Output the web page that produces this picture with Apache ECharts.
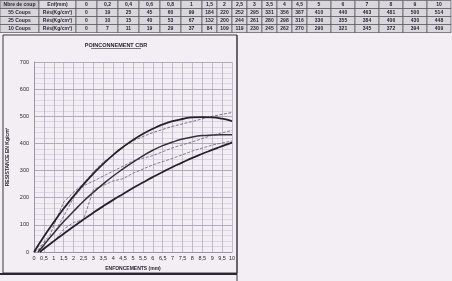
<!DOCTYPE html>
<html><head><meta charset="utf-8">
<script src="https://cdn.jsdelivr.net/npm/echarts@6/dist/echarts.min.js"></script>
<style>html,body{margin:0;padding:0;background:#f2eef4;}#c{width:452px;height:281px;}</style>
</head><body><div id="c"></div>
<script>
// ---- table / raw data ----
const enf = [0,0.2,0.4,0.6,0.8,1,1.5,2,2.5,3,3.5,4,4.5,5,6,7,8,9,10];
const enfLabels = ['0','0,2','0,4','0,6','0,8','1','1,5','2','2,5','3','3,5','4','4,5','5','6','7','8','9','10'];
const res55 = [0,19,25,45,60,99,184,220,252,295,331,356,387,410,440,463,481,500,514];
const res25 = [0,10,15,40,53,67,132,200,244,261,280,298,316,336,355,384,406,430,448];
const res10 = [0,7,11,19,29,37,84,109,119,230,245,262,270,290,321,345,372,394,409];
const rowNames = ['55 Coups','25 Coups','10 Coups'];
const unitLabel = 'Rés(Kg/cm²)';
// ---- corrected (smoothed) curves ----
const curveTopX = [0,0.5,1,1.5,2,2.5,3,3.5,4,4.5,5,5.5,6,6.5,7,7.5,8,8.5,9,9.5,10];
const curveTopY = [0,57,110,160,206,249,289,325,358,387,413,435,454,470,482,490,496,497,496,491,482];
const curveMidX = [0.2,0.5,1,1.5,2,2.5,3,3.5,4,4.5,5,5.5,6,6.5,7,7.5,8,8.5,9,9.5,10];
const curveMidY = [0,26,70,112,150,187,220,251,280,306,331,354,375,392,405,416,424,429,431,432,432];
const curveLowX = [0.3,0.5,1,1.5,2,2.5,3,3.5,4,4.5,5,5.5,6,6.5,7,7.5,8,8.5,9,9.5,10];
const curveLowY = [0,12,40,67,94,120,145,169,192,214,236,256,276,295,313,330,347,362,376,390,403];
const xTicks = ['0','0,5','1','1,5','2','2,5','3','3,5','4','4,5','5','5,5','6','6,5','7','7,5','8','8,5','9','9,5','10'];

const chart = echarts.init(document.getElementById('c'), null, {renderer:'canvas'});
const ink = '#2b2833';
// table graphics
const g = [];
const colX = [0,39,76];
for (let i=0;i<enf.length;i++){ colX.push(colX[colX.length-1] + (i<6?21:(i<13?15:24))); }
const rowY = [0.5,8.5,16.5,24.5,32.5];
const cellFill = '#d9d6dc';
function cell(x0,x1,y0,y1,txt,fill){
  g.push({type:'rect',shape:{x:x0,y:y0,width:x1-x0,height:y1-y0},style:{fill:fill||cellFill,stroke:'#55525c',lineWidth:0.7},silent:true});
  g.push({type:'text',x:(x0+x1)/2,y:(y0+y1)/2,style:{text:txt,fill:ink,font:'bold 5px "Liberation Sans", Arial',textAlign:'center',textVerticalAlign:'middle'},silent:true});
}
cell(colX[0],colX[1],rowY[0],rowY[1],'Nbre de coup','#c6c3ca');
cell(colX[1],colX[2],rowY[0],rowY[1],'Enf(mm)','#dedbe0');
enfLabels.forEach((t,i)=>cell(colX[i+2],colX[i+3],rowY[0],rowY[1],t));
[res55,res25,res10].forEach((arr,r)=>{
  cell(colX[0],colX[1],rowY[r+1],rowY[r+2],rowNames[r]);
  cell(colX[1],colX[2],rowY[r+1],rowY[r+2],unitLabel);
  arr.forEach((v,i)=>cell(colX[i+2],colX[i+3],rowY[r+1],rowY[r+2],String(v)));
});
// chart frame
g.push({type:'rect',shape:{x:3,y:35,width:234,height:238},style:{fill:'none',stroke:'#3a3840',lineWidth:1},silent:true});
g.push({type:'line',shape:{x1:237,y1:35,x2:237,y2:281},style:{stroke:'#3a3840',lineWidth:1},silent:true});
g.push({type:'line',shape:{x1:0,y1:274,x2:237,y2:274},style:{stroke:'#2a2830',lineWidth:2},silent:true});
// title
g.push({type:'text',x:116,y:45,style:{text:'POINCONNEMENT CBR',fill:ink,font:'bold 5.5px "Liberation Sans", Arial',textAlign:'center',textVerticalAlign:'middle'},silent:true});
g.push({type:'line',shape:{x1:91,y1:48.5,x2:141,y2:48.5},style:{stroke:ink,lineWidth:0.6},silent:true});

function pts(xs,ys){ return xs.map((x,i)=>[x,ys[i]]); }
const thin = (c)=>({color:c,width:0.8,type:[3,1.5]});
chart.setOption({
  backgroundColor:'#f2eef4',
  animation:false,
  graphic:g,
  grid:{left:34,top:62,width:198,height:190,containLabel:false},
  xAxis:{type:'value',min:0,max:10,interval:0.5,
    name:'ENFONCEMENTS (mm)',nameLocation:'middle',nameGap:12,
    nameTextStyle:{fontSize:5,fontWeight:'bold',color:ink,fontFamily:'Liberation Sans'},
    axisLine:{lineStyle:{color:'#9994a6'}},axisTick:{show:false},
    axisLabel:{fontSize:5.5,color:ink,margin:3,fontFamily:'Liberation Sans',formatter:(v)=>xTicks[Math.round(v*2)]},
    splitLine:{show:true,lineStyle:{color:'#aaa6bb',width:0.7}}},
  yAxis:{type:'value',min:0,max:700,interval:100,
    name:'RESISTANCE EN Kg/cm²',nameLocation:'middle',nameGap:24,nameRotate:90,
    nameTextStyle:{fontSize:5,fontWeight:'bold',color:ink,fontFamily:'Liberation Sans'},
    axisLine:{show:true,lineStyle:{color:'#9994a6'}},axisTick:{show:false},
    axisLabel:{fontSize:5.5,color:ink,margin:5,fontFamily:'Liberation Sans'},
    splitLine:{show:true,lineStyle:{color:'#9e9ab0',width:0.8}},
    minorTick:{show:false,splitNumber:5},
    minorSplitLine:{show:true,lineStyle:{color:'#c2bfd0',width:0.5}}},
  series:[
    {type:'line',data:pts(enf,res55),symbol:'none',lineStyle:thin('#5a5766'),z:2},
    {type:'line',data:pts(enf,res25),symbol:'none',lineStyle:thin('#6a6776'),z:2},
    {type:'line',data:pts(enf,res10),symbol:'none',lineStyle:thin('#6a6776'),z:2},
    {type:'line',data:pts(curveTopX,curveTopY),smooth:true,symbol:'none',lineStyle:{color:'#25222c',width:1.8},z:3},
    {type:'line',data:pts(curveMidX,curveMidY),smooth:true,symbol:'none',lineStyle:{color:'#34313c',width:1.5},z:3},
    {type:'line',data:pts(curveLowX,curveLowY),smooth:true,symbol:'none',lineStyle:{color:'#25222c',width:1.8},z:3}
  ]
});
</script></body></html>
